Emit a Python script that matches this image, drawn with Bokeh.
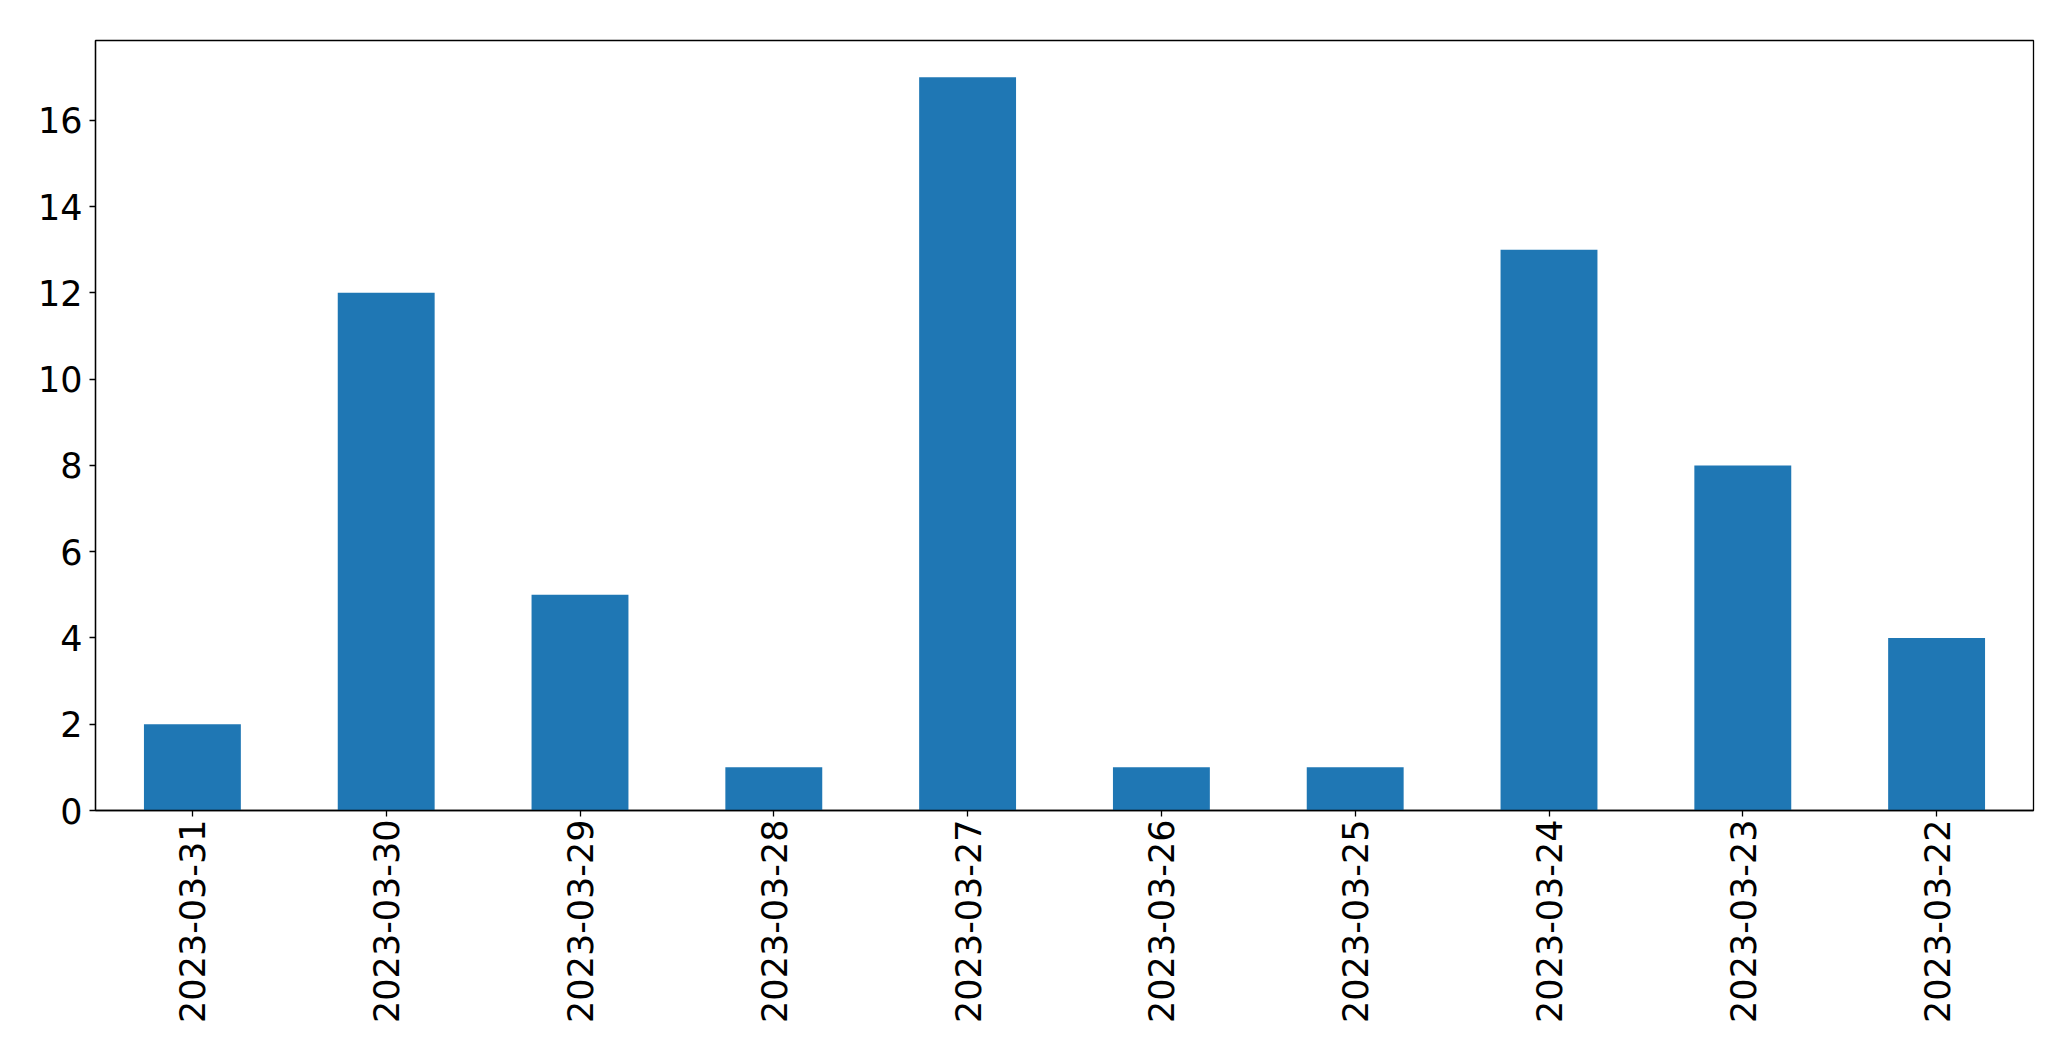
import math
from bokeh.plotting import figure
from bokeh.models import Range1d, FixedTicker
from bokeh.embed import file_html
from bokeh.resources import INLINE

dates = ["2023-03-31", "2023-03-30", "2023-03-29", "2023-03-28", "2023-03-27",
         "2023-03-26", "2023-03-25", "2023-03-24", "2023-03-23", "2023-03-22"]
counts = [2, 12, 5, 1, 17, 1, 1, 13, 8, 4]
y_ticks = [0, 2, 4, 6, 8, 10, 12, 14, 16]

xs = list(range(len(dates)))

p = figure(output_backend="svg", toolbar_location=None,
           frame_width=1938, frame_height=770,
           min_border_left=95, min_border_top=40, min_border_right=30, min_border_bottom=200,
           x_range=Range1d(-0.5, len(dates) - 0.5),
           y_range=Range1d(0, max(counts) * 1.05))

p.vbar(x=xs, top=counts, width=0.5, bottom=0, color="#1f77b4", line_color=None)

p.xgrid.visible = False
p.ygrid.visible = False
p.outline_line_color = "black"
p.outline_line_width = 1.3
p.background_fill_color = "white"
p.border_fill_color = "white"

font = "DejaVu Sans"
for ax in (p.xaxis[0], p.yaxis[0]):
    ax.axis_line_color = "black"
    ax.axis_line_width = 1.3
    ax.major_tick_line_color = "black"
    ax.major_tick_line_width = 1.3
    ax.major_tick_in = 0
    ax.major_tick_out = 6
    ax.minor_tick_line_color = None
    ax.major_label_text_font = font
    ax.major_label_text_font_size = "35px"
    ax.major_label_text_color = "black"

p.xaxis.ticker = FixedTicker(ticks=xs)
p.xaxis.major_label_overrides = {i: d for i, d in enumerate(dates)}
p.xaxis.major_label_orientation = math.pi / 2
p.xaxis.major_label_standoff = 3
p.yaxis.ticker = FixedTicker(ticks=y_ticks)
p.yaxis.major_label_standoff = 7

open("out.html", "w").write(file_html(p, INLINE))
